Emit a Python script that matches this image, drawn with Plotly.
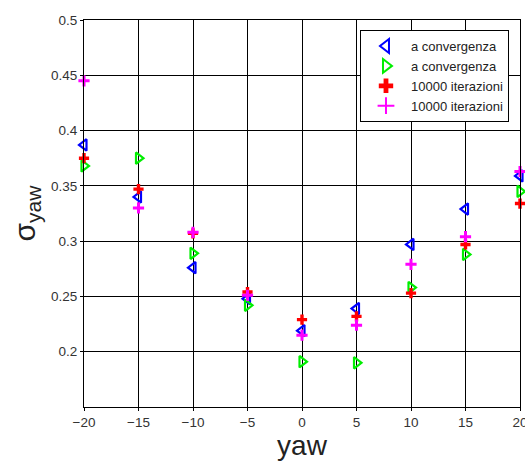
import plotly.graph_objects as go

yaw = [-20, -15, -10, -5, 0, 5, 10, 15, 20]
blue_conv = [0.387, 0.340, 0.276, 0.248, 0.219, 0.239, 0.297, 0.329, 0.359]
green_conv = [0.368, 0.375, 0.289, 0.242, 0.191, 0.190, 0.258, 0.288, 0.345]
red_iter = [0.375, 0.347, 0.307, 0.254, 0.229, 0.232, 0.253, 0.297, 0.334]
mag_iter = [0.445, 0.330, 0.308, 0.251, 0.215, 0.224, 0.279, 0.304, 0.363]
names = ["a convergenza", "a convergenza", "10000 iterazioni", "10000 iterazioni"]
y_ticks = [0.2, 0.25, 0.3, 0.35, 0.4, 0.45, 0.5]
y_labels = ["0.2", "0.25", "0.3", "0.35", "0.4", "0.45", "0.5"]

fig = go.Figure()
fig.add_trace(go.Scatter(x=yaw, y=blue_conv, mode="markers", name=names[0], cliponaxis=False,
                         marker=dict(symbol="triangle-left-open", size=10, color="#0000ff",
                                     line=dict(width=2.2, color="#0000ff"))))
fig.add_trace(go.Scatter(x=yaw, y=green_conv, mode="markers", name=names[1], cliponaxis=False,
                         marker=dict(symbol="triangle-right-open", size=10, color="#00ee00",
                                     line=dict(width=2.2, color="#00ee00"))))
fig.add_trace(go.Scatter(x=yaw, y=red_iter, mode="markers", name=names[2], cliponaxis=False,
                         marker=dict(symbol="cross", size=8.5, color="#ff0000",
                                     line=dict(width=0))))
fig.add_trace(go.Scatter(x=yaw, y=mag_iter, mode="markers", name=names[3], cliponaxis=False,
                         marker=dict(symbol="cross-thin", size=8, color="#ff00ff",
                                     line=dict(width=3, color="#ff00ff"))))

fig.update_layout(
    width=525, height=464,
    margin=dict(l=84, r=5, t=20, b=57),
    paper_bgcolor="white", plot_bgcolor="white",
    font=dict(family="Liberation Sans, Arial", color="#333333"),
    showlegend=True,
    legend=dict(x=0.633, y=0.974, xanchor="left", yanchor="top",
                bgcolor="white", bordercolor="black", borderwidth=1,
                font=dict(size=13, color="#222222"), tracegroupgap=0,
                itemsizing="constant", itemwidth=40),
    xaxis=dict(range=[-20, 20], dtick=5, tick0=-20, showgrid=True, gridcolor="black",
               gridwidth=1, zeroline=False, showline=True, linecolor="black", mirror=True,
               ticks="outside", ticklen=3, tickcolor="black", ticklabeloverflow="allow",
               automargin=False,
               tickfont=dict(size=13.5, color="#333333"),
               title=dict(text="yaw", font=dict(size=28, color="#222222"), standoff=6)),
    yaxis=dict(range=[0.15, 0.5], tickvals=y_ticks, ticktext=y_labels, showgrid=True,
               gridcolor="black", gridwidth=1, zeroline=False, showline=True,
               linecolor="black", mirror=True, ticks="outside", ticklen=3, tickcolor="black",
               automargin=False,
               tickfont=dict(size=13.5, color="#333333"),
               title=dict(text="σ<sub>yaw</sub>", font=dict(size=30, color="#222222"), standoff=6)),
)

fig.write_html("out.html")
